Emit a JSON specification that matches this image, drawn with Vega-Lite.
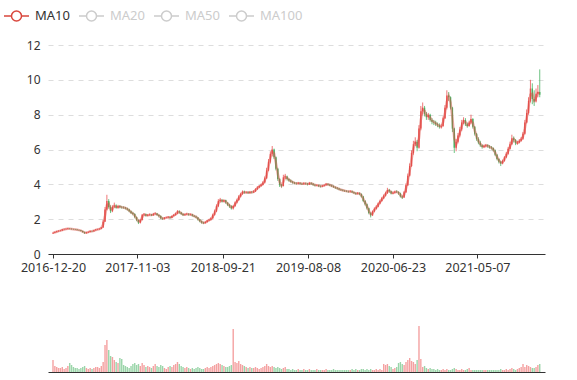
{
"$schema":"https://vega.github.io/schema/vega-lite/v6.json",
"padding":5,
"config":{"view":{"stroke":null},"font":"Noto Sans","axis":{"labelFont":"Noto Sans","labelFontSize":12.5,"labelColor":"#333"},"legend":{"labelFont":"Noto Sans"},
"axisY":{"values":[0,2,4,6,8,10,12],"grid":true,"gridDash":[5,5],"gridColor":"#ddd","domain":false,"ticks":false,"labelPadding":8,"labelOverlap":false,"title":null,"labelFontSize":12}},
"data":{"format":{"parse":{"d":"date:'%Y-%m-%d'"}},"values":[
{"d":"2016-12-20","o":1.18,"c":1.22,"h":1.25,"l":1.15,"v":12},
{"d":"2016-12-27","o":1.22,"c":1.26,"h":1.3,"l":1.2,"v":6},
{"d":"2017-01-03","o":1.26,"c":1.3,"h":1.33,"l":1.24,"v":5},
{"d":"2017-01-10","o":1.3,"c":1.33,"h":1.36,"l":1.28,"v":4},
{"d":"2017-01-17","o":1.33,"c":1.35,"h":1.38,"l":1.3,"v":4},
{"d":"2017-01-24","o":1.35,"c":1.4,"h":1.43,"l":1.33,"v":5},
{"d":"2017-01-31","o":1.4,"c":1.42,"h":1.46,"l":1.38,"v":3},
{"d":"2017-02-07","o":1.42,"c":1.44,"h":1.48,"l":1.4,"v":4},
{"d":"2017-02-14","o":1.44,"c":1.46,"h":1.5,"l":1.42,"v":6},
{"d":"2017-02-21","o":1.46,"c":1.45,"h":1.49,"l":1.42,"v":9},
{"d":"2017-02-28","o":1.45,"c":1.43,"h":1.47,"l":1.4,"v":7},
{"d":"2017-03-07","o":1.43,"c":1.42,"h":1.45,"l":1.39,"v":5},
{"d":"2017-03-14","o":1.42,"c":1.4,"h":1.44,"l":1.38,"v":4},
{"d":"2017-03-21","o":1.4,"c":1.38,"h":1.42,"l":1.35,"v":4},
{"d":"2017-03-28","o":1.38,"c":1.36,"h":1.4,"l":1.33,"v":3},
{"d":"2017-04-04","o":1.36,"c":1.32,"h":1.38,"l":1.3,"v":4},
{"d":"2017-04-11","o":1.32,"c":1.26,"h":1.34,"l":1.22,"v":5},
{"d":"2017-04-18","o":1.26,"c":1.2,"h":1.28,"l":1.15,"v":6},
{"d":"2017-04-25","o":1.2,"c":1.24,"h":1.27,"l":1.17,"v":4},
{"d":"2017-05-02","o":1.24,"c":1.27,"h":1.3,"l":1.21,"v":3},
{"d":"2017-05-09","o":1.27,"c":1.32,"h":1.35,"l":1.25,"v":4},
{"d":"2017-05-16","o":1.32,"c":1.3,"h":1.34,"l":1.27,"v":3},
{"d":"2017-05-23","o":1.3,"c":1.36,"h":1.38,"l":1.28,"v":4},
{"d":"2017-05-30","o":1.36,"c":1.4,"h":1.43,"l":1.34,"v":5},
{"d":"2017-06-06","o":1.4,"c":1.42,"h":1.45,"l":1.38,"v":5},
{"d":"2017-06-13","o":1.42,"c":1.45,"h":1.48,"l":1.4,"v":4},
{"d":"2017-06-20","o":1.45,"c":1.52,"h":1.55,"l":1.43,"v":6},
{"d":"2017-06-27","o":1.52,"c":1.85,"h":1.95,"l":1.5,"v":10},
{"d":"2017-07-04","o":1.85,"c":2.55,"h":2.7,"l":1.85,"v":27},
{"d":"2017-07-11","o":2.55,"c":3.05,"h":3.4,"l":2.5,"v":32},
{"d":"2017-07-18","o":3.05,"c":2.7,"h":3.15,"l":2.6,"v":22},
{"d":"2017-07-25","o":2.7,"c":2.45,"h":2.8,"l":2.35,"v":16},
{"d":"2017-08-01","o":2.45,"c":2.72,"h":2.8,"l":2.4,"v":15},
{"d":"2017-08-08","o":2.72,"c":2.78,"h":2.95,"l":2.65,"v":12},
{"d":"2017-08-15","o":2.78,"c":2.65,"h":2.85,"l":2.6,"v":10},
{"d":"2017-08-22","o":2.65,"c":2.75,"h":2.82,"l":2.6,"v":9},
{"d":"2017-08-29","o":2.75,"c":2.7,"h":2.8,"l":2.62,"v":14},
{"d":"2017-09-05","o":2.7,"c":2.68,"h":2.76,"l":2.6,"v":13},
{"d":"2017-09-12","o":2.68,"c":2.66,"h":2.74,"l":2.6,"v":7},
{"d":"2017-09-19","o":2.66,"c":2.62,"h":2.7,"l":2.56,"v":6},
{"d":"2017-09-26","o":2.62,"c":2.55,"h":2.66,"l":2.5,"v":5},
{"d":"2017-10-03","o":2.55,"c":2.45,"h":2.6,"l":2.4,"v":4},
{"d":"2017-10-10","o":2.45,"c":2.35,"h":2.5,"l":2.3,"v":6},
{"d":"2017-10-17","o":2.35,"c":2.3,"h":2.42,"l":2.22,"v":8},
{"d":"2017-10-24","o":2.3,"c":2.12,"h":2.34,"l":2.05,"v":9},
{"d":"2017-10-31","o":2.12,"c":1.95,"h":2.15,"l":1.88,"v":7},
{"d":"2017-11-07","o":1.95,"c":1.8,"h":1.98,"l":1.72,"v":8},
{"d":"2017-11-14","o":1.8,"c":1.95,"h":2.0,"l":1.75,"v":6},
{"d":"2017-11-21","o":1.95,"c":2.25,"h":2.3,"l":1.92,"v":9},
{"d":"2017-11-28","o":2.25,"c":2.28,"h":2.35,"l":2.18,"v":7},
{"d":"2017-12-05","o":2.28,"c":2.2,"h":2.32,"l":2.15,"v":5},
{"d":"2017-12-12","o":2.2,"c":2.24,"h":2.3,"l":2.16,"v":6},
{"d":"2017-12-19","o":2.24,"c":2.26,"h":2.32,"l":2.2,"v":5},
{"d":"2017-12-26","o":2.26,"c":2.22,"h":2.3,"l":2.18,"v":4},
{"d":"2018-01-02","o":2.22,"c":2.3,"h":2.36,"l":2.2,"v":6},
{"d":"2018-01-09","o":2.3,"c":2.32,"h":2.4,"l":2.25,"v":8},
{"d":"2018-01-16","o":2.32,"c":2.24,"h":2.36,"l":2.2,"v":6},
{"d":"2018-01-23","o":2.24,"c":2.18,"h":2.28,"l":2.1,"v":5},
{"d":"2018-01-30","o":2.18,"c":2.05,"h":2.22,"l":2.0,"v":7},
{"d":"2018-02-06","o":2.05,"c":2.02,"h":2.1,"l":1.96,"v":6},
{"d":"2018-02-13","o":2.02,"c":2.08,"h":2.12,"l":1.98,"v":4},
{"d":"2018-02-20","o":2.08,"c":2.1,"h":2.14,"l":2.05,"v":3},
{"d":"2018-02-27","o":2.1,"c":2.12,"h":2.18,"l":2.06,"v":5},
{"d":"2018-03-06","o":2.12,"c":2.08,"h":2.16,"l":2.03,"v":6},
{"d":"2018-03-13","o":2.08,"c":2.18,"h":2.22,"l":2.05,"v":5},
{"d":"2018-03-20","o":2.18,"c":2.24,"h":2.3,"l":2.15,"v":7},
{"d":"2018-03-27","o":2.24,"c":2.32,"h":2.38,"l":2.2,"v":8},
{"d":"2018-04-03","o":2.32,"c":2.45,"h":2.52,"l":2.28,"v":10},
{"d":"2018-04-10","o":2.45,"c":2.38,"h":2.5,"l":2.32,"v":8},
{"d":"2018-04-17","o":2.38,"c":2.3,"h":2.42,"l":2.25,"v":6},
{"d":"2018-04-24","o":2.3,"c":2.24,"h":2.34,"l":2.18,"v":5},
{"d":"2018-05-01","o":2.24,"c":2.28,"h":2.32,"l":2.2,"v":4},
{"d":"2018-05-08","o":2.28,"c":2.3,"h":2.36,"l":2.24,"v":5},
{"d":"2018-05-15","o":2.3,"c":2.26,"h":2.34,"l":2.2,"v":4},
{"d":"2018-05-22","o":2.26,"c":2.28,"h":2.32,"l":2.22,"v":3},
{"d":"2018-05-29","o":2.28,"c":2.2,"h":2.3,"l":2.15,"v":4},
{"d":"2018-06-05","o":2.2,"c":2.16,"h":2.24,"l":2.12,"v":3},
{"d":"2018-06-12","o":2.16,"c":2.1,"h":2.2,"l":2.05,"v":4},
{"d":"2018-06-19","o":2.1,"c":1.98,"h":2.12,"l":1.92,"v":5},
{"d":"2018-06-26","o":1.98,"c":1.88,"h":2.0,"l":1.82,"v":4},
{"d":"2018-07-03","o":1.88,"c":1.8,"h":1.92,"l":1.74,"v":3},
{"d":"2018-07-10","o":1.8,"c":1.78,"h":1.85,"l":1.72,"v":3},
{"d":"2018-07-17","o":1.78,"c":1.84,"h":1.88,"l":1.75,"v":4},
{"d":"2018-07-24","o":1.84,"c":1.92,"h":1.96,"l":1.8,"v":5},
{"d":"2018-07-31","o":1.92,"c":1.96,"h":2.02,"l":1.88,"v":4},
{"d":"2018-08-07","o":1.96,"c":2.05,"h":2.1,"l":1.92,"v":5},
{"d":"2018-08-14","o":2.05,"c":2.25,"h":2.32,"l":2.0,"v":6},
{"d":"2018-08-21","o":2.25,"c":2.45,"h":2.55,"l":2.2,"v":7},
{"d":"2018-08-28","o":2.45,"c":2.75,"h":2.85,"l":2.4,"v":8},
{"d":"2018-09-04","o":2.75,"c":3.05,"h":3.15,"l":2.7,"v":9},
{"d":"2018-09-11","o":3.05,"c":3.1,"h":3.22,"l":2.95,"v":8},
{"d":"2018-09-18","o":3.1,"c":3.02,"h":3.16,"l":2.95,"v":7},
{"d":"2018-09-25","o":3.02,"c":3.08,"h":3.14,"l":2.96,"v":6},
{"d":"2018-10-02","o":3.08,"c":2.95,"h":3.12,"l":2.88,"v":5},
{"d":"2018-10-09","o":2.95,"c":2.82,"h":2.98,"l":2.75,"v":5},
{"d":"2018-10-16","o":2.82,"c":2.75,"h":2.88,"l":2.65,"v":6},
{"d":"2018-10-23","o":2.75,"c":2.62,"h":2.8,"l":2.55,"v":7},
{"d":"2018-10-30","o":2.62,"c":2.75,"h":2.8,"l":2.55,"v":43},
{"d":"2018-11-06","o":2.75,"c":2.95,"h":3.02,"l":2.7,"v":10},
{"d":"2018-11-13","o":2.95,"c":3.1,"h":3.18,"l":2.9,"v":9},
{"d":"2018-11-20","o":3.1,"c":3.3,"h":3.38,"l":3.05,"v":11},
{"d":"2018-11-27","o":3.3,"c":3.45,"h":3.52,"l":3.25,"v":8},
{"d":"2018-12-04","o":3.45,"c":3.58,"h":3.65,"l":3.4,"v":7},
{"d":"2018-12-11","o":3.58,"c":3.52,"h":3.64,"l":3.46,"v":6},
{"d":"2018-12-18","o":3.52,"c":3.55,"h":3.6,"l":3.48,"v":5},
{"d":"2018-12-25","o":3.55,"c":3.5,"h":3.6,"l":3.45,"v":4},
{"d":"2019-01-01","o":3.5,"c":3.56,"h":3.62,"l":3.46,"v":5},
{"d":"2019-01-08","o":3.56,"c":3.54,"h":3.62,"l":3.48,"v":4},
{"d":"2019-01-15","o":3.54,"c":3.6,"h":3.66,"l":3.5,"v":4},
{"d":"2019-01-22","o":3.6,"c":3.72,"h":3.78,"l":3.56,"v":5},
{"d":"2019-01-29","o":3.72,"c":3.82,"h":3.9,"l":3.68,"v":4},
{"d":"2019-02-05","o":3.82,"c":3.9,"h":3.96,"l":3.78,"v":3},
{"d":"2019-02-12","o":3.9,"c":3.98,"h":4.04,"l":3.86,"v":4},
{"d":"2019-02-19","o":3.98,"c":4.1,"h":4.18,"l":3.94,"v":5},
{"d":"2019-02-26","o":4.1,"c":4.35,"h":4.45,"l":4.05,"v":6},
{"d":"2019-03-05","o":4.35,"c":4.8,"h":4.95,"l":4.3,"v":8},
{"d":"2019-03-12","o":4.8,"c":5.3,"h":5.45,"l":4.75,"v":6},
{"d":"2019-03-19","o":5.3,"c":5.75,"h":5.9,"l":5.2,"v":5},
{"d":"2019-03-26","o":5.75,"c":6.0,"h":6.2,"l":5.6,"v":6},
{"d":"2019-04-02","o":6.0,"c":5.55,"h":6.05,"l":5.45,"v":5},
{"d":"2019-04-09","o":5.55,"c":4.9,"h":5.6,"l":4.8,"v":4},
{"d":"2019-04-16","o":4.9,"c":4.3,"h":4.95,"l":4.2,"v":5},
{"d":"2019-04-23","o":4.3,"c":3.95,"h":4.35,"l":3.85,"v":4},
{"d":"2019-04-30","o":3.95,"c":3.9,"h":4.02,"l":3.82,"v":3},
{"d":"2019-05-07","o":3.9,"c":4.4,"h":4.55,"l":3.88,"v":4},
{"d":"2019-05-14","o":4.4,"c":4.45,"h":4.6,"l":4.3,"v":5},
{"d":"2019-05-21","o":4.45,"c":4.3,"h":4.5,"l":4.22,"v":3},
{"d":"2019-05-28","o":4.3,"c":4.22,"h":4.35,"l":4.15,"v":3},
{"d":"2019-06-04","o":4.22,"c":4.15,"h":4.28,"l":4.1,"v":2},
{"d":"2019-06-11","o":4.15,"c":4.1,"h":4.2,"l":4.04,"v":3},
{"d":"2019-06-18","o":4.1,"c":4.06,"h":4.14,"l":4.0,"v":2},
{"d":"2019-06-25","o":4.06,"c":4.04,"h":4.12,"l":3.98,"v":2},
{"d":"2019-07-02","o":4.04,"c":4.08,"h":4.14,"l":4.0,"v":3},
{"d":"2019-07-09","o":4.08,"c":4.04,"h":4.12,"l":4.0,"v":2},
{"d":"2019-07-16","o":4.04,"c":4.02,"h":4.08,"l":3.96,"v":2},
{"d":"2019-07-23","o":4.02,"c":4.06,"h":4.12,"l":3.98,"v":3},
{"d":"2019-07-30","o":4.06,"c":4.04,"h":4.1,"l":3.98,"v":2},
{"d":"2019-08-06","o":4.04,"c":4.0,"h":4.08,"l":3.94,"v":2},
{"d":"2019-08-13","o":4.0,"c":4.08,"h":4.14,"l":3.96,"v":3},
{"d":"2019-08-20","o":4.08,"c":4.04,"h":4.12,"l":3.98,"v":2},
{"d":"2019-08-27","o":4.04,"c":3.98,"h":4.08,"l":3.92,"v":2},
{"d":"2019-09-03","o":3.98,"c":3.94,"h":4.02,"l":3.88,"v":2},
{"d":"2019-09-10","o":3.94,"c":3.96,"h":4.0,"l":3.9,"v":3},
{"d":"2019-09-17","o":3.96,"c":3.9,"h":3.98,"l":3.84,"v":2},
{"d":"2019-09-24","o":3.9,"c":3.88,"h":3.94,"l":3.82,"v":2},
{"d":"2019-10-01","o":3.88,"c":3.92,"h":3.96,"l":3.84,"v":2},
{"d":"2019-10-08","o":3.92,"c":3.96,"h":4.0,"l":3.88,"v":2},
{"d":"2019-10-15","o":3.96,"c":4.02,"h":4.08,"l":3.92,"v":3},
{"d":"2019-10-22","o":4.02,"c":3.98,"h":4.06,"l":3.94,"v":2},
{"d":"2019-10-29","o":3.98,"c":3.94,"h":4.02,"l":3.9,"v":2},
{"d":"2019-11-05","o":3.94,"c":3.9,"h":3.98,"l":3.84,"v":2},
{"d":"2019-11-12","o":3.9,"c":3.84,"h":3.94,"l":3.8,"v":3},
{"d":"2019-11-19","o":3.84,"c":3.8,"h":3.88,"l":3.74,"v":2},
{"d":"2019-11-26","o":3.8,"c":3.76,"h":3.84,"l":3.7,"v":2},
{"d":"2019-12-03","o":3.76,"c":3.7,"h":3.8,"l":3.66,"v":2},
{"d":"2019-12-10","o":3.7,"c":3.68,"h":3.74,"l":3.62,"v":2},
{"d":"2019-12-17","o":3.68,"c":3.64,"h":3.72,"l":3.6,"v":2},
{"d":"2019-12-24","o":3.64,"c":3.62,"h":3.68,"l":3.56,"v":2},
{"d":"2019-12-31","o":3.62,"c":3.6,"h":3.66,"l":3.55,"v":2},
{"d":"2020-01-07","o":3.6,"c":3.58,"h":3.64,"l":3.52,"v":2},
{"d":"2020-01-14","o":3.58,"c":3.6,"h":3.66,"l":3.54,"v":2},
{"d":"2020-01-21","o":3.6,"c":3.54,"h":3.64,"l":3.5,"v":3},
{"d":"2020-01-28","o":3.54,"c":3.5,"h":3.58,"l":3.44,"v":2},
{"d":"2020-02-04","o":3.5,"c":3.46,"h":3.54,"l":3.4,"v":3},
{"d":"2020-02-11","o":3.46,"c":3.5,"h":3.56,"l":3.42,"v":2},
{"d":"2020-02-18","o":3.5,"c":3.44,"h":3.54,"l":3.38,"v":2},
{"d":"2020-02-25","o":3.44,"c":3.3,"h":3.48,"l":3.24,"v":3},
{"d":"2020-03-03","o":3.3,"c":3.05,"h":3.34,"l":2.98,"v":3},
{"d":"2020-03-10","o":3.05,"c":2.85,"h":3.1,"l":2.78,"v":2},
{"d":"2020-03-17","o":2.85,"c":2.62,"h":2.9,"l":2.55,"v":3},
{"d":"2020-03-24","o":2.62,"c":2.35,"h":2.66,"l":2.28,"v":2},
{"d":"2020-03-31","o":2.35,"c":2.22,"h":2.4,"l":2.1,"v":3},
{"d":"2020-04-07","o":2.22,"c":2.45,"h":2.5,"l":2.18,"v":2},
{"d":"2020-04-14","o":2.45,"c":2.6,"h":2.68,"l":2.4,"v":2},
{"d":"2020-04-21","o":2.6,"c":2.72,"h":2.8,"l":2.55,"v":3},
{"d":"2020-04-28","o":2.72,"c":2.9,"h":2.96,"l":2.68,"v":2},
{"d":"2020-05-05","o":2.9,"c":3.05,"h":3.12,"l":2.85,"v":3},
{"d":"2020-05-12","o":3.05,"c":3.2,"h":3.28,"l":3.0,"v":2},
{"d":"2020-05-19","o":3.2,"c":3.35,"h":3.42,"l":3.15,"v":8},
{"d":"2020-05-26","o":3.35,"c":3.5,"h":3.58,"l":3.3,"v":7},
{"d":"2020-06-02","o":3.5,"c":3.68,"h":3.8,"l":3.45,"v":8},
{"d":"2020-06-09","o":3.68,"c":3.6,"h":3.74,"l":3.52,"v":6},
{"d":"2020-06-16","o":3.6,"c":3.48,"h":3.64,"l":3.42,"v":5},
{"d":"2020-06-23","o":3.48,"c":3.52,"h":3.58,"l":3.44,"v":3},
{"d":"2020-06-30","o":3.52,"c":3.58,"h":3.64,"l":3.48,"v":4},
{"d":"2020-07-07","o":3.58,"c":3.56,"h":3.66,"l":3.5,"v":5},
{"d":"2020-07-14","o":3.56,"c":3.48,"h":3.6,"l":3.4,"v":9},
{"d":"2020-07-21","o":3.48,"c":3.3,"h":3.52,"l":3.24,"v":10},
{"d":"2020-07-28","o":3.3,"c":3.25,"h":3.36,"l":3.16,"v":8},
{"d":"2020-08-04","o":3.25,"c":3.55,"h":3.62,"l":3.22,"v":7},
{"d":"2020-08-11","o":3.55,"c":3.95,"h":4.05,"l":3.5,"v":10},
{"d":"2020-08-18","o":3.95,"c":4.5,"h":4.62,"l":3.9,"v":12},
{"d":"2020-08-25","o":4.5,"c":5.05,"h":5.2,"l":4.45,"v":14},
{"d":"2020-09-01","o":5.05,"c":5.8,"h":5.95,"l":5.0,"v":11},
{"d":"2020-09-08","o":5.8,"c":6.3,"h":6.5,"l":5.7,"v":10},
{"d":"2020-09-15","o":6.3,"c":6.45,"h":6.7,"l":6.2,"v":8},
{"d":"2020-09-22","o":6.45,"c":6.1,"h":6.55,"l":5.9,"v":12},
{"d":"2020-09-29","o":6.1,"c":7.2,"h":7.4,"l":6.05,"v":46},
{"d":"2020-10-06","o":7.2,"c":8.2,"h":8.5,"l":7.1,"v":13},
{"d":"2020-10-13","o":8.2,"c":8.4,"h":8.7,"l":8.0,"v":5},
{"d":"2020-10-20","o":8.4,"c":8.05,"h":8.5,"l":7.9,"v":6},
{"d":"2020-10-27","o":8.05,"c":7.85,"h":8.15,"l":7.7,"v":4},
{"d":"2020-11-03","o":7.85,"c":8.0,"h":8.1,"l":7.7,"v":3},
{"d":"2020-11-10","o":8.0,"c":7.7,"h":8.05,"l":7.6,"v":4},
{"d":"2020-11-17","o":7.7,"c":7.6,"h":7.8,"l":7.45,"v":3},
{"d":"2020-11-24","o":7.6,"c":7.55,"h":7.7,"l":7.4,"v":3},
{"d":"2020-12-01","o":7.55,"c":7.45,"h":7.65,"l":7.35,"v":2},
{"d":"2020-12-08","o":7.45,"c":7.4,"h":7.55,"l":7.28,"v":3},
{"d":"2020-12-15","o":7.4,"c":7.3,"h":7.5,"l":7.2,"v":2},
{"d":"2020-12-22","o":7.3,"c":7.35,"h":7.45,"l":7.2,"v":2},
{"d":"2020-12-29","o":7.35,"c":7.8,"h":7.9,"l":7.3,"v":3},
{"d":"2021-01-05","o":7.8,"c":8.4,"h":8.55,"l":7.75,"v":2},
{"d":"2021-01-12","o":8.4,"c":9.1,"h":9.4,"l":8.3,"v":3},
{"d":"2021-01-19","o":9.1,"c":9.0,"h":9.3,"l":8.8,"v":2},
{"d":"2021-01-26","o":9.0,"c":8.4,"h":9.05,"l":8.3,"v":2},
{"d":"2021-02-02","o":8.4,"c":7.2,"h":8.45,"l":7.0,"v":3},
{"d":"2021-02-09","o":7.2,"c":6.1,"h":7.25,"l":5.8,"v":4},
{"d":"2021-02-16","o":6.1,"c":6.45,"h":6.6,"l":5.9,"v":3},
{"d":"2021-02-23","o":6.45,"c":6.8,"h":6.95,"l":6.35,"v":2},
{"d":"2021-03-02","o":6.8,"c":7.15,"h":7.3,"l":6.7,"v":2},
{"d":"2021-03-09","o":7.15,"c":7.55,"h":7.7,"l":7.05,"v":3},
{"d":"2021-03-16","o":7.55,"c":7.7,"h":7.85,"l":7.45,"v":2},
{"d":"2021-03-23","o":7.7,"c":7.45,"h":7.8,"l":7.35,"v":2},
{"d":"2021-03-30","o":7.45,"c":7.35,"h":7.55,"l":7.25,"v":3},
{"d":"2021-04-06","o":7.35,"c":7.55,"h":7.65,"l":7.3,"v":4},
{"d":"2021-04-13","o":7.55,"c":7.75,"h":8.0,"l":7.45,"v":2},
{"d":"2021-04-20","o":7.75,"c":7.3,"h":7.8,"l":7.2,"v":2},
{"d":"2021-04-27","o":7.3,"c":6.9,"h":7.35,"l":6.8,"v":2},
{"d":"2021-05-04","o":6.9,"c":6.6,"h":6.95,"l":6.5,"v":2},
{"d":"2021-05-11","o":6.6,"c":6.4,"h":6.7,"l":6.3,"v":2},
{"d":"2021-05-18","o":6.4,"c":6.25,"h":6.5,"l":6.15,"v":2},
{"d":"2021-05-25","o":6.25,"c":6.15,"h":6.3,"l":6.05,"v":2},
{"d":"2021-06-01","o":6.15,"c":6.2,"h":6.28,"l":6.08,"v":2},
{"d":"2021-06-08","o":6.2,"c":6.25,"h":6.32,"l":6.12,"v":2},
{"d":"2021-06-15","o":6.25,"c":6.18,"h":6.3,"l":6.1,"v":2},
{"d":"2021-06-22","o":6.18,"c":6.12,"h":6.25,"l":6.05,"v":2},
{"d":"2021-06-29","o":6.12,"c":6.08,"h":6.2,"l":6.0,"v":2},
{"d":"2021-07-06","o":6.08,"c":5.95,"h":6.12,"l":5.88,"v":2},
{"d":"2021-07-13","o":5.95,"c":5.7,"h":6.0,"l":5.62,"v":2},
{"d":"2021-07-20","o":5.7,"c":5.45,"h":5.75,"l":5.38,"v":2},
{"d":"2021-07-27","o":5.45,"c":5.3,"h":5.5,"l":5.2,"v":2},
{"d":"2021-08-03","o":5.3,"c":5.2,"h":5.35,"l":5.05,"v":3},
{"d":"2021-08-10","o":5.2,"c":5.35,"h":5.42,"l":5.15,"v":2},
{"d":"2021-08-17","o":5.35,"c":5.55,"h":5.62,"l":5.3,"v":2},
{"d":"2021-08-24","o":5.55,"c":5.75,"h":5.85,"l":5.5,"v":3},
{"d":"2021-08-31","o":5.75,"c":6.05,"h":6.15,"l":5.7,"v":2},
{"d":"2021-09-07","o":6.05,"c":6.3,"h":6.45,"l":6.0,"v":3},
{"d":"2021-09-14","o":6.3,"c":6.65,"h":6.85,"l":6.25,"v":4},
{"d":"2021-09-21","o":6.65,"c":6.55,"h":6.75,"l":6.4,"v":3},
{"d":"2021-09-28","o":6.55,"c":6.35,"h":6.6,"l":6.25,"v":2},
{"d":"2021-10-05","o":6.35,"c":6.4,"h":6.5,"l":6.28,"v":3},
{"d":"2021-10-12","o":6.4,"c":6.5,"h":6.6,"l":6.35,"v":4},
{"d":"2021-10-19","o":6.5,"c":6.62,"h":6.72,"l":6.45,"v":5},
{"d":"2021-10-26","o":6.62,"c":6.9,"h":7.0,"l":6.55,"v":8},
{"d":"2021-11-02","o":6.9,"c":7.55,"h":7.7,"l":6.85,"v":5},
{"d":"2021-11-09","o":7.55,"c":8.1,"h":8.3,"l":7.5,"v":7},
{"d":"2021-11-16","o":8.1,"c":8.8,"h":9.0,"l":8.0,"v":6},
{"d":"2021-11-23","o":8.8,"c":9.5,"h":10.0,"l":8.7,"v":5},
{"d":"2021-11-30","o":9.5,"c":8.9,"h":9.8,"l":8.6,"v":4},
{"d":"2021-12-07","o":8.9,"c":8.75,"h":9.4,"l":8.5,"v":4},
{"d":"2021-12-14","o":8.75,"c":9.2,"h":9.5,"l":8.7,"v":5},
{"d":"2021-12-21","o":9.2,"c":9.3,"h":9.7,"l":9.0,"v":7},
{"d":"2021-12-28","o":9.3,"c":9.15,"h":10.6,"l":9.0,"v":8}
]},
"resolve":{"legend":{"color":"independent"}},
"spacing":38,
"vconcat":[
{"width":497,"height":209,
"encoding":{"x":{"field":"d","type":"temporal","title":null,
"scale":{"domain":[{"year":2016,"month":12,"date":20},{"year":2021,"month":12,"date":29}]},
"axis":{"values":[{"year":2016,"month":12,"date":20},{"year":2017,"month":11,"date":3},{"year":2018,"month":9,"date":21},{"year":2019,"month":8,"date":8},{"year":2020,"month":6,"date":23},{"year":2021,"month":5,"date":7}],
"format":"%Y-%m-%d","grid":false,"domainColor":"#333","tickColor":"#333","tickSize":4,"labelPadding":3,"labelFlush":false,"labelOverlap":false}}},
"layer":[
{"mark":{"type":"rule","strokeWidth":0.8},
"encoding":{"y":{"field":"l","type":"quantitative","title":null,"scale":{"domain":[0,12],"nice":false,"zero":true}},
"y2":{"field":"h"},
"color":{"condition":{"test":"datum.c >= datum.o","value":"#eb5454"},"value":"#47b262"}}},
{"mark":{"type":"bar","size":1.4},
"encoding":{"y":{"field":"o","type":"quantitative","title":null},"y2":{"field":"c"},
"color":{"condition":{"test":"datum.c >= datum.o","value":"#eb5454"},"value":"#47b262"}}},
{"transform":[{"window":[{"op":"mean","field":"c","as":"ma"}],"frame":[-1,0],"sort":[{"field":"d"}]}],
"mark":{"type":"line","strokeWidth":2.5,"opacity":0.45,"interpolate":"linear"},
"encoding":{"y":{"field":"ma","type":"quantitative","title":null},
"color":{"datum":"MA10","type":"nominal",
"scale":{"domain":["MA10","MA20","MA50","MA100"],"range":["#d9473d","#ccc","#ccc","#ccc"]},
"legend":{"orient":"none","legendX":-42.5,"legendY":-40,"direction":"horizontal","title":null,"gridAlign":"none",
"symbolType":"M-1.25,0H-0.5M0.5,0H1.25M-0.5,0A0.5,0.5,0,1,1,0.5,0A0.5,0.5,0,1,1,-0.5,0",
"symbolSize":400,"symbolStrokeWidth":1.5,"symbolFillColor":"#fff","symbolOpacity":1,
"labelFontSize":13,"labelOffset":7.5,"columnPadding":5,
"encode":{"labels":{"update":{"fill":{"signal":"datum.value === 'MA10' ? '#333' : '#ccc'"}}}}}}}}
]},
{"width":497,"height":60,
"mark":{"type":"bar","size":1.4,"opacity":0.55},
"encoding":{"x":{"field":"d","type":"temporal","title":null,
"scale":{"domain":[{"year":2016,"month":12,"date":20},{"year":2021,"month":12,"date":29}]},
"axis":{"labels":false,"ticks":false,"grid":false,"domainColor":"#333"}},
"y":{"field":"v","type":"quantitative","title":null,"scale":{"domain":[0,60],"nice":false},"axis":null},
"color":{"condition":{"test":"datum.c >= datum.o","value":"#eb5454"},"value":"#47b262"}}}
]
}
